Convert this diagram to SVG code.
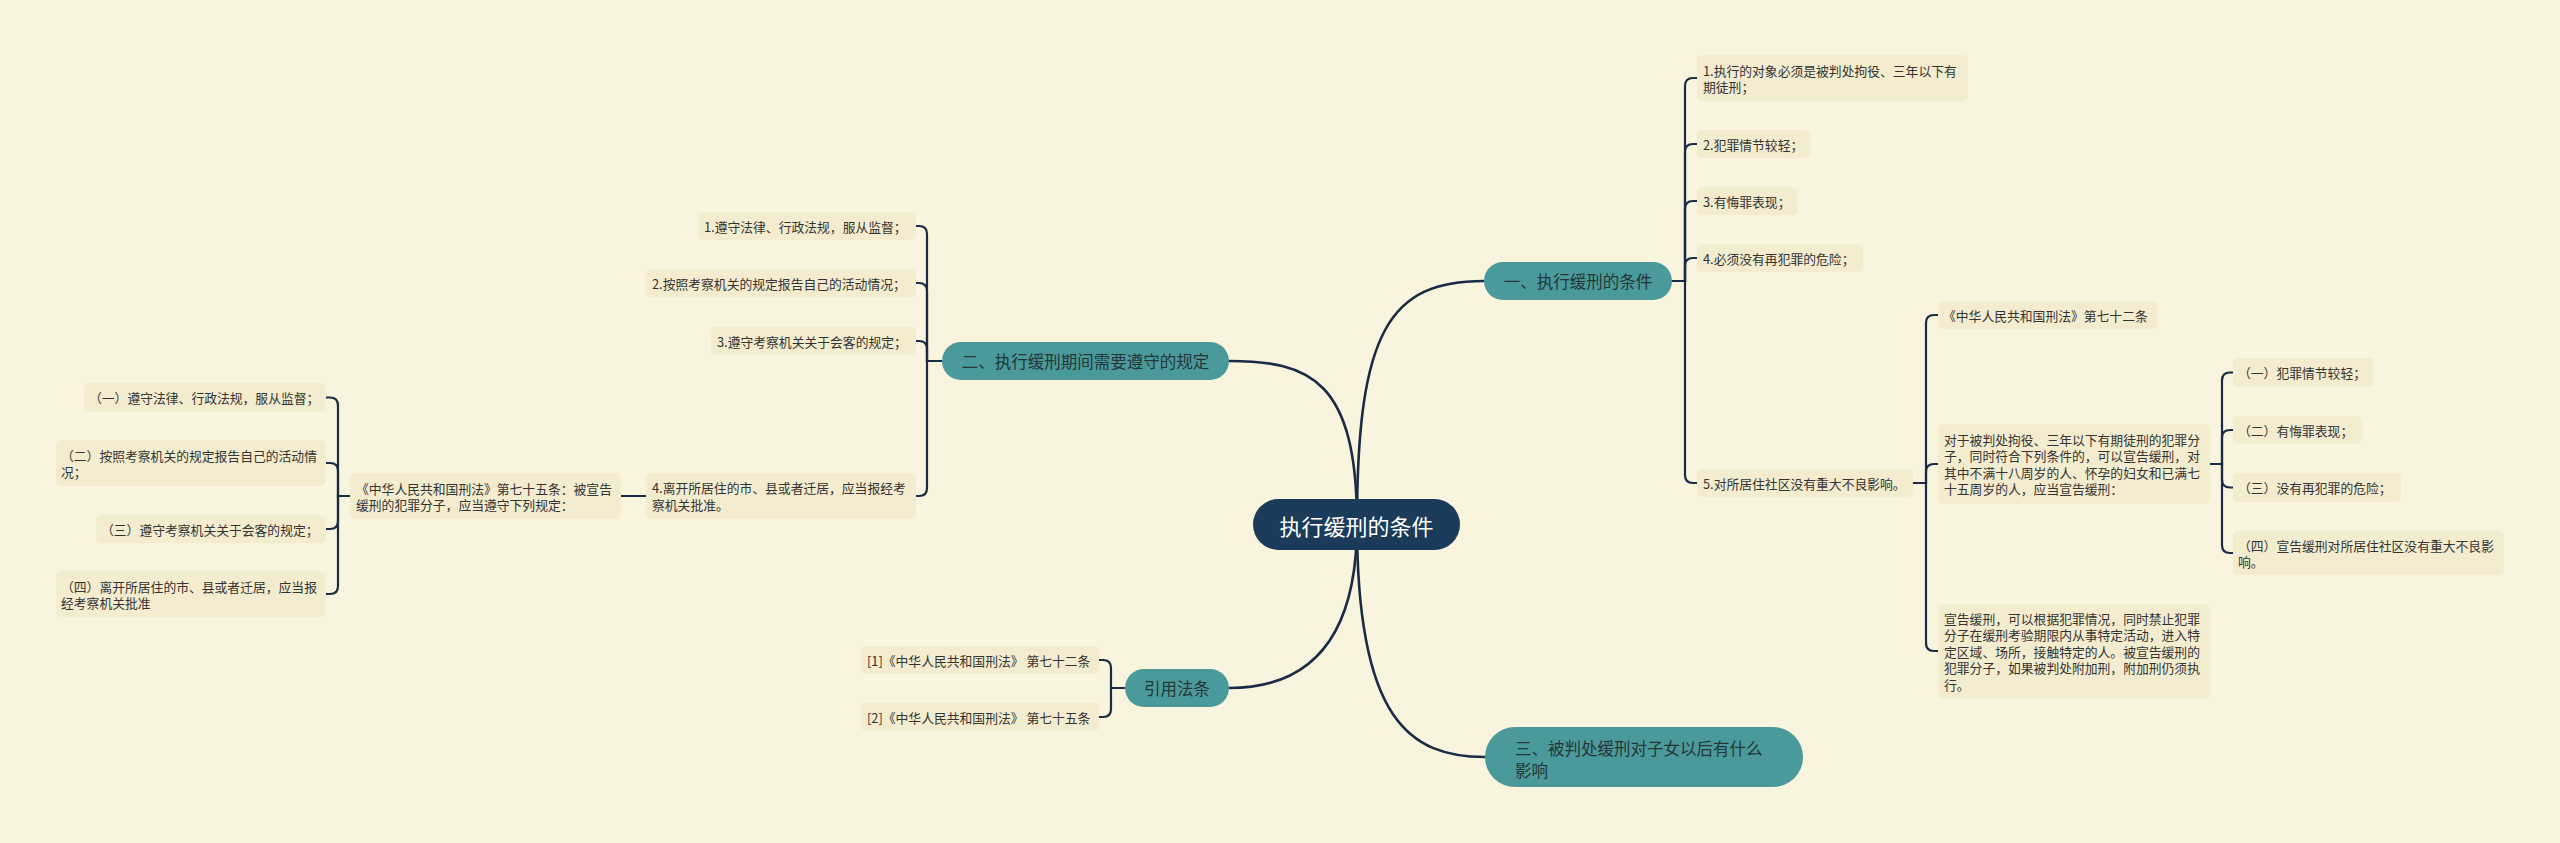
<svg xmlns="http://www.w3.org/2000/svg" width="2560" height="843" viewBox="0 0 2560 843">
<style>
.bg{fill:#f9f4de}
.leaf rect{fill:#f4ecce}
.leaf text{font-family:"Noto Sans CJK SC","Noto Sans",sans-serif;font-size:12.8px;fill:#333333;dominant-baseline:central}
.main rect{fill:#4b9a9b}
.main text{font-family:"Noto Sans CJK SC","Noto Sans",sans-serif;font-size:16.5px;fill:#243636;dominant-baseline:central}
.root rect{fill:#1b3b5a}
.root text{font-family:"Noto Sans CJK SC","Noto Sans",sans-serif;font-size:22px;fill:#ffffff;dominant-baseline:central;text-anchor:middle}
.c path{fill:none;stroke:#1a2b45;stroke-width:2.2;stroke-linecap:round}
.c path.r{stroke-width:2.6}
.mid{text-anchor:middle}
</style>
<rect class="bg" x="0" y="0" width="2560" height="843"/>

<g id="connectors" class="c">
  <!-- root to main branches -->
  <path class="r" d="M1357,524 C1357,330 1390,281 1484,281"/>
  <path class="r" d="M1357,524 C1357,380 1310,361 1229,361"/>
  <path class="r" d="M1357,524 C1357,645 1305,688 1229,688"/>
  <path class="r" d="M1357,524 C1357,720 1410,757 1485,757"/>
  <!-- branch 1 children -->
  <path d="M1672,281 H1685 V86 Q1685,78 1693,78 H1697"/>
  <path d="M1672,281 H1685 V152 Q1685,144 1693,144 H1697"/>
  <path d="M1672,281 H1685 V209 Q1685,201 1693,201 H1697"/>
  <path d="M1672,281 H1685 V266 Q1685,258 1693,258 H1697"/>
  <path d="M1672,281 H1685 V475 Q1685,483 1693,483 H1697"/>
  <!-- c5 children -->
  <path d="M1913,483 H1926 V323 Q1926,315 1934,315 H1938"/>
  <path d="M1913,483 H1926 V472 Q1926,464 1934,464 H1938"/>
  <path d="M1913,483 H1926 V643 Q1926,651 1934,651 H1938"/>
  <!-- s2 children -->
  <path d="M2210,464 H2222 V380.5 Q2222,372.5 2230,372.5 H2233"/>
  <path d="M2210,464 H2222 V438 Q2222,430 2230,430 H2233"/>
  <path d="M2210,464 H2222 V479.5 Q2222,487.5 2230,487.5 H2233"/>
  <path d="M2210,464 H2222 V545 Q2222,553 2230,553 H2233"/>
  <!-- branch 2 children -->
  <path d="M942,361 H927 V234 Q927,226 919,226 H916"/>
  <path d="M942,361 H927 V291 Q927,283 919,283 H916"/>
  <path d="M942,361 H927 V349 Q927,341 919,341 H916"/>
  <path d="M942,361 H927 V488 Q927,496 919,496 H916"/>
  <!-- b4 to art.75 -->
  <path d="M646,496 H621"/>
  <!-- art.75 children -->
  <path d="M350,496 H338 V405.5 Q338,397.5 330,397.5 H326"/>
  <path d="M350,496 H338 V471 Q338,463 330,463 H326"/>
  <path d="M350,496 H338 V521 Q338,529 330,529 H326"/>
  <path d="M350,496 H338 V586 Q338,594 330,594 H326"/>
  <!-- citations -->
  <path d="M1125,688 H1111 V668 Q1111,660 1103,660 H1099"/>
  <path d="M1125,688 H1111 V709 Q1111,717 1103,717 H1099"/>
</g>

<g id="root" class="root">
  <rect x="1253" y="499" width="207" height="51" rx="25.5"/>
  <text x="1356.5" y="524.5">执行缓刑的条件</text>
</g>

<g id="branch1" class="main">
  <rect x="1484" y="262" width="188" height="38" rx="19"/>
  <text class="mid" x="1578" y="281">一、执行缓刑的条件</text>
</g>
<g id="branch2" class="main">
  <rect x="942" y="342" width="287" height="38" rx="19"/>
  <text class="mid" x="1085.5" y="361">二、执行缓刑期间需要遵守的规定</text>
</g>
<g id="branch3" class="main">
  <rect x="1485" y="727" width="318" height="60" rx="30"/>
  <text x="1515" y="748">三、被判处缓刑对子女以后有什么</text>
  <text x="1515" y="770">影响</text>
</g>
<g id="branch4" class="main">
  <rect x="1125" y="669" width="104" height="38" rx="19"/>
  <text class="mid" x="1177" y="688">引用法条</text>
</g>

<g id="c1" class="leaf">
  <rect x="1697" y="55" width="271" height="46" rx="5"/>
  <text x="1703" y="70">1.执行的对象必须是被判处拘役、三年以下有</text>
  <text x="1703" y="86.5">期徒刑；</text>
</g>
<g id="c2" class="leaf">
  <rect x="1697" y="130" width="113" height="28" rx="5"/>
  <text x="1703" y="144">2.犯罪情节较轻；</text>
</g>
<g id="c3" class="leaf">
  <rect x="1697" y="187" width="101" height="28" rx="5"/>
  <text x="1703" y="201">3.有悔罪表现；</text>
</g>
<g id="c4" class="leaf">
  <rect x="1697" y="244" width="166" height="28" rx="5"/>
  <text x="1703" y="258">4.必须没有再犯罪的危险；</text>
</g>
<g id="c5" class="leaf">
  <rect x="1697" y="469" width="216" height="28" rx="5"/>
  <text x="1703" y="483">5.对所居住社区没有重大不良影响。</text>
</g>

<g id="s1" class="leaf">
  <rect x="1938" y="301" width="220" height="28" rx="5"/>
  <text x="1943" y="315">《中华人民共和国刑法》第七十二条</text>
</g>
<g id="s2" class="leaf">
  <rect x="1938" y="424" width="272" height="80" rx="5"/>
  <text x="1944" y="439">对于被判处拘役、三年以下有期徒刑的犯罪分</text>
  <text x="1944" y="455.5">子，同时符合下列条件的，可以宣告缓刑，对</text>
  <text x="1944" y="472">其中不满十八周岁的人、怀孕的妇女和已满七</text>
  <text x="1944" y="488.5">十五周岁的人，应当宣告缓刑：</text>
</g>
<g id="s3" class="leaf">
  <rect x="1938" y="604" width="272" height="95" rx="5"/>
  <text x="1944" y="618">宣告缓刑，可以根据犯罪情况，同时禁止犯罪</text>
  <text x="1944" y="634.5">分子在缓刑考验期限内从事特定活动，进入特</text>
  <text x="1944" y="651">定区域、场所，接触特定的人。被宣告缓刑的</text>
  <text x="1944" y="667.5">犯罪分子，如果被判处附加刑，附加刑仍须执</text>
  <text x="1944" y="684">行。</text>
</g>

<g id="t1" class="leaf">
  <rect x="2233" y="358" width="141" height="29" rx="5"/>
  <text x="2238" y="372.5">（一）犯罪情节较轻；</text>
</g>
<g id="t2" class="leaf">
  <rect x="2233" y="416" width="129" height="28" rx="5"/>
  <text x="2238" y="430">（二）有悔罪表现；</text>
</g>
<g id="t3" class="leaf">
  <rect x="2233" y="473" width="168" height="29" rx="5"/>
  <text x="2238" y="487.5">（三）没有再犯罪的危险；</text>
</g>
<g id="t4" class="leaf">
  <rect x="2233" y="531" width="271" height="44" rx="5"/>
  <text x="2238" y="545">（四）宣告缓刑对所居住社区没有重大不良影</text>
  <text x="2238" y="561.5">响。</text>
</g>

<g id="b1" class="leaf">
  <rect x="698" y="212" width="218" height="28" rx="5"/>
  <text x="704" y="226">1.遵守法律、行政法规，服从监督；</text>
</g>
<g id="b2" class="leaf">
  <rect x="646" y="269" width="270" height="28" rx="5"/>
  <text x="652" y="283">2.按照考察机关的规定报告自己的活动情况；</text>
</g>
<g id="b3" class="leaf">
  <rect x="711" y="327" width="205" height="28" rx="5"/>
  <text x="717" y="341">3.遵守考察机关关于会客的规定；</text>
</g>
<g id="b4" class="leaf">
  <rect x="646" y="473" width="270" height="46" rx="5"/>
  <text x="652" y="487.5">4.离开所居住的市、县或者迁居，应当报经考</text>
  <text x="652" y="504">察机关批准。</text>
</g>

<g id="art75" class="leaf">
  <rect x="350" y="473" width="271" height="46" rx="5"/>
  <text x="356" y="488">《中华人民共和国刑法》第七十五条：被宣告</text>
  <text x="356" y="504.5">缓刑的犯罪分子，应当遵守下列规定：</text>
</g>

<g id="d1" class="leaf">
  <rect x="84" y="383" width="242" height="29" rx="5"/>
  <text x="89" y="397.5">（一）遵守法律、行政法规，服从监督；</text>
</g>
<g id="d2" class="leaf">
  <rect x="56" y="440" width="270" height="46" rx="5"/>
  <text x="61" y="455">（二）按照考察机关的规定报告自己的活动情</text>
  <text x="61" y="471.5">况；</text>
</g>
<g id="d3" class="leaf">
  <rect x="96" y="515" width="230" height="28" rx="5"/>
  <text x="101" y="529">（三）遵守考察机关关于会客的规定；</text>
</g>
<g id="d4" class="leaf">
  <rect x="56" y="571" width="270" height="46" rx="5"/>
  <text x="61" y="586">（四）离开所居住的市、县或者迁居，应当报</text>
  <text x="61" y="602.5">经考察机关批准</text>
</g>

<g id="e1" class="leaf">
  <rect x="861" y="646" width="238" height="28" rx="5"/>
  <text x="867" y="660">[1]《中华人民共和国刑法》 第七十二条</text>
</g>
<g id="e2" class="leaf">
  <rect x="861" y="703" width="238" height="28" rx="5"/>
  <text x="867" y="717">[2]《中华人民共和国刑法》 第七十五条</text>
</g>
</svg>
